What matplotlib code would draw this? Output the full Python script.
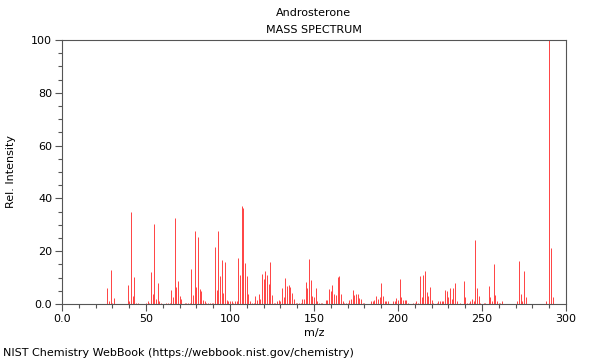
import numpy as np
import matplotlib
matplotlib.use('Agg')
import matplotlib.pyplot as plt
from matplotlib.ticker import MultipleLocator

# peaks (m/z, relative intensity)
mz = [27, 28, 29, 30, 31, 39, 40, 41, 42, 43, 44, 45, 50, 51, 52, 53, 54, 55, 56, 57,
      58, 59, 62, 63, 64, 65, 66, 67, 68, 69, 70, 71, 73, 74, 75, 76, 77, 78, 79, 80,
      81, 82, 83, 84, 85, 86, 87, 88, 89, 90, 91, 92, 93, 94, 95, 96, 97, 98, 99, 100,
      101, 102, 103, 104, 105, 106, 107, 108, 109, 110, 111, 112, 113, 114, 115, 116,
      117, 118, 119, 120, 121, 122, 123, 124, 125, 126, 127, 128, 129, 130, 131, 132,
      133, 134, 135, 136, 137, 138, 139, 140, 141, 142, 143, 144, 145, 146, 147, 148,
      149, 150, 151, 152, 153, 154, 155, 157, 158, 159, 160, 161, 162, 163, 164, 165,
      166, 167, 168, 169, 170, 171, 172, 173, 174, 175, 176, 177, 178, 179, 180, 184,
      185, 186, 187, 188, 189, 190, 191, 192, 193, 194, 197, 198, 199, 200, 201, 202,
      203, 204, 205, 206, 209, 210, 211, 212, 213, 214, 215, 216, 217, 218, 219, 220,
      221, 223, 224, 225, 226, 227, 228, 229, 230, 231, 232, 233, 234, 235, 237, 239,
      240, 241, 242, 243, 244, 245, 246, 247, 248, 249, 251, 252, 254, 255, 256, 257,
      258, 259, 260, 261, 262, 271, 272, 273, 274, 275, 276, 288, 290, 291, 292]
intensity = [5.9, 1, 12.9, 0.5, 2.1, 7.1, 1, 34.7, 3.2, 10.1, 0.5, 0.5, 0.5, 1.0, 0.5, 12.1, 3.7, 30.3, 2, 8.0,
             1, 0.5, 0.5, 0.5, 0.5, 5.2, 2.8, 32.6, 6.4, 8.7, 3, 2, 0.5, 0.5, 0.5, 0.5, 13.1, 3.4, 27.6, 6.4,
             25.5, 5.6, 5.1, 1.5, 1, 0.5, 0.5, 0.5, 0.5, 0.5, 21.5, 5.3, 27.6, 10.6, 16.7, 4.3, 15.9, 1.6, 1, 1,
             1, 0.5, 1, 1, 17.5, 11.1, 37.1, 36.5, 15.4, 10.5, 3.9, 1, 0.5, 0.5, 3, 1.5,
             3.9, 2, 11.2, 9.6, 12.5, 11.1, 7.6, 15.9, 3.4, 0.5, 0.5, 1, 1.5, 1, 6.1, 2.5,
             9.7, 6.8, 7.2, 6.4, 4.0, 2, 0.5, 0.5, 0.5, 0.5, 2, 2, 8.3, 6.1, 17.0, 9.0,
             3, 2.7, 6.1, 1, 0.5, 0.5, 0.5, 1.5, 1.5, 5.6, 5.1, 7.3, 3.7, 3.4, 10.2, 10.6,
             3.8, 1, 0.5, 0.5, 0.5, 1.5, 2, 5.3, 3.4, 3.8, 3.7, 2.2, 2, 0.5, 0.3, 1,
             1, 1.5, 3, 2, 2.7, 8.0, 3.1, 1, 1, 1, 1, 1, 2.2, 1.5, 9.5, 2.5,
             1.5, 1.5, 1.5, 0.5, 0.5, 0.5, 1, 0.5, 10.6, 2.6, 10.9, 12.5, 4.5, 3, 6.4, 1.5,
             0.5, 0.5, 1, 1, 1, 1, 5.3, 4.8, 2.5, 6.2, 2, 6.1, 8.0, 1, 0.5, 8.8,
             2.5, 0.5, 0.5, 1, 2, 1, 24.1, 6.1, 3.1, 0.5, 0.5, 0.5, 6.9, 2.7, 1, 15.3,
             3.4, 1, 0.5, 0.5, 1, 1, 16.3, 3.8, 1, 12.4, 2.7, 1, 100, 21.1, 2.7]

fig = plt.figure(figsize=(6, 3.6), dpi=100)
ax = fig.add_axes([62/600, 1-304/360, 504/600, 264/360])
ax.vlines(mz, 0, intensity, colors='#ff2020', linewidth=0.7, alpha=0.85)
ax.set_xlim(0, 300)
ax.set_ylim(0, 100)
ax.xaxis.set_minor_locator(MultipleLocator(10))
ax.yaxis.set_minor_locator(MultipleLocator(5))
ax.set_xticks([0, 50, 100, 150, 200, 250, 300])
ax.set_xticklabels(['0.0', '50', '100', '150', '200', '250', '300'])
ax.set_yticks([0, 20, 40, 60, 80, 100])
ax.set_yticklabels(['0.0', '20', '40', '60', '80', '100'])
for s in ax.spines.values():
    s.set_color('#555555')
    s.set_linewidth(0.8)
ax.tick_params(which='major', length=5, width=0.8, color='#555555', labelsize=8, pad=2)
ax.tick_params(which='minor', length=3, width=0.8, color='#555555')
ax.set_xlabel('m/z', fontsize=8, labelpad=3)
ax.set_ylabel('Rel. Intensity', fontsize=8)
ax.yaxis.set_label_coords(-(62-16)/504, 0.5)
fig.text(0.523, 1-13/360, 'Androsterone', ha='center', va='center', fontsize=8)
fig.text(0.523, 1-30/360, 'MASS SPECTRUM', ha='center', va='center', fontsize=8)
fig.text(3/600, 1-353/360, 'NIST Chemistry WebBook (https://webbook.nist.gov/chemistry)',
         ha='left', va='center', fontsize=8)
plt.savefig('out.png', dpi=100)
